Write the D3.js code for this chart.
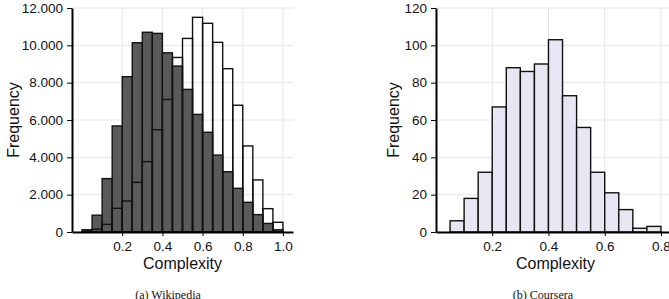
<!DOCTYPE html>
<html>
<head>
<meta charset="utf-8">
<script src="https://cdn.jsdelivr.net/npm/d3@7"></script>
<style>
  body { margin: 0; background: #fff; }
  svg { display: block; }
</style>
</head>
<body>
<div id="chart"></div>
<script>
const W = 669, H = 299;

// (a) Wikipedia: two overlaid histograms, bin width 0.05
const wikiBins = [0, 0.05, 0.1, 0.15, 0.2, 0.25, 0.3, 0.35, 0.4, 0.45,
                  0.5, 0.55, 0.6, 0.65, 0.7, 0.75, 0.8, 0.85, 0.9, 0.95];
const wikiFilled = [120, 900, 2860, 5680, 8320, 10140, 10700, 10640, 9600, 8890,
                    7640, 6300, 5340, 4120, 3230, 2340, 1590, 930, 460, 120];
const wikiOutline = [40, 150, 410, 1270, 1660, 2660, 3770, 5480, 7100, 9350,
                     10370, 11500, 11180, 10160, 8750, 6790, 4610, 2790, 1250, 520];
const wikiYTicks = [0, 2000, 4000, 6000, 8000, 10000, 12000];
const wikiXTicks = [0.2, 0.4, 0.6, 0.8, 1.0];

// (b) Coursera
const courseraBins = [0.05, 0.1, 0.15, 0.2, 0.25, 0.3, 0.35, 0.4, 0.45,
                      0.5, 0.55, 0.6, 0.65, 0.7, 0.75];
const courseraCounts = [6, 18, 32, 67, 88, 86, 90, 103, 73, 56, 32, 21, 12, 2, 3];
const courseraYTicks = [0, 20, 40, 60, 80, 100, 120];
const courseraXTicks = [0.2, 0.4, 0.6, 0.8];

const binWidth = 0.05;

const dotLocale = d3.formatLocale({ decimal: ',', thousands: '.', grouping: [3], currency: ['', ''] });
const fmtThousands = dotLocale.format(',');

const svg = d3.select('#chart').append('svg')
  .attr('width', W)
  .attr('height', H);

function panel(o) {
  const g = svg.append('g');
  const x = d3.scaleLinear().domain(o.xDomain).range(o.xRange);
  const y = d3.scaleLinear().domain(o.yDomain).range([232, 8]);

  // grid
  g.append('g').selectAll('line.h')
    .data(o.yTicks)
    .join('line')
    .attr('x1', o.xRange[0]).attr('x2', o.gridRight)
    .attr('y1', d => y(d)).attr('y2', d => y(d))
    .attr('stroke', '#e6e6e6').attr('stroke-width', 1);
  g.append('g').selectAll('line.v')
    .data(o.xTicks)
    .join('line')
    .attr('x1', d => x(d)).attr('x2', d => x(d))
    .attr('y1', y.range()[1]).attr('y2', y.range()[0])
    .attr('stroke', '#e6e6e6').attr('stroke-width', 1);

  // filled bars
  g.append('g').selectAll('rect')
    .data(o.bins.map((b, i) => ({ b, v: o.filled[i] })))
    .join('rect')
    .attr('x', d => x(d.b))
    .attr('width', d => x(d.b + binWidth) - x(d.b))
    .attr('y', d => y(d.v))
    .attr('height', d => y(0) - y(d.v))
    .attr('fill', o.fill)
    .attr('stroke', '#111')
    .attr('stroke-width', 1.4);

  // outline-only bars on top
  if (o.outline) {
    g.append('g').selectAll('rect')
      .data(o.bins.map((b, i) => ({ b, v: o.outline[i] })))
      .join('rect')
      .attr('x', d => x(d.b))
      .attr('width', d => x(d.b + binWidth) - x(d.b))
      .attr('y', d => y(d.v))
      .attr('height', d => y(0) - y(d.v))
      .attr('fill', 'none')
      .attr('stroke', '#111')
      .attr('stroke-width', 1.4);
  }

  // axes
  const xAxis = g.append('g')
    .attr('transform', `translate(0,${y(0)})`)
    .call(d3.axisBottom(x).tickValues(o.xTicks).tickFormat(d3.format('.1f'))
      .tickSize(4).tickSizeOuter(0).tickPadding(5));
  const yAxis = g.append('g')
    .attr('transform', `translate(${o.xRange[0]},0)`)
    .call(d3.axisLeft(y).tickValues(o.yTicks).tickFormat(o.yFormat)
      .tickSize(5).tickSizeOuter(0).tickPadding(4));

  [xAxis, yAxis].forEach(a => {
    a.select('.domain').attr('stroke', '#000').attr('stroke-width', 2);
    a.selectAll('.tick line').attr('stroke', '#000').attr('stroke-width', 1);
    a.selectAll('.tick text')
      .attr('fill', '#111')
      .style('font-family', '"Liberation Sans", Arial, sans-serif')
      .style('font-size', '13.5px');
  });

  g.append('text')
    .attr('x', (o.xRange[0] + o.xRange[1]) / 2)
    .attr('y', 269)
    .attr('text-anchor', 'middle')
    .style('font-family', '"Liberation Sans", Arial, sans-serif')
    .style('font-size', '16px')
    .attr('fill', '#111')
    .text('Complexity');

  g.append('text')
    .attr('transform', `translate(${o.yLabelX},120) rotate(-90)`)
    .attr('text-anchor', 'middle')
    .attr('dy', '0.35em')
    .style('font-family', '"Liberation Sans", Arial, sans-serif')
    .style('font-size', '16px')
    .attr('fill', '#111')
    .text('Frequency');

  g.append('text')
    .attr('x', o.captionX)
    .attr('y', 299)
    .attr('text-anchor', 'middle')
    .style('font-family', '"Liberation Serif", "Times New Roman", serif')
    .style('font-size', '12px')
    .attr('fill', '#111')
    .text(o.caption);
}

panel({
  bins: wikiBins,
  filled: wikiFilled,
  outline: wikiOutline,
  fill: '#5a5a5a',
  xDomain: [-0.05, 1.05],
  xRange: [72, 293],
  yDomain: [0, 12000],
  xTicks: wikiXTicks,
  yTicks: wikiYTicks,
  yFormat: fmtThousands,
  gridRight: 293,
  yLabelX: 13,
  caption: '(a) Wikipedia',
  captionX: 168
});

panel({
  bins: courseraBins,
  filled: courseraCounts,
  outline: null,
  fill: '#e8e6f2',
  xDomain: [0, 0.85],
  xRange: [436, 675],
  yDomain: [0, 120],
  xTicks: courseraXTicks,
  yTicks: courseraYTicks,
  yFormat: d3.format('d'),
  gridRight: 675,
  yLabelX: 393,
  caption: '(b) Coursera',
  captionX: 543
});
</script>
</body>
</html>
